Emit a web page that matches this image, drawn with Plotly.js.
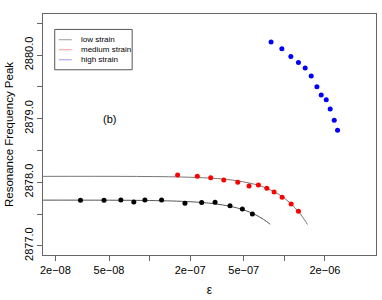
<!DOCTYPE html>
<html>
<head>
<meta charset="utf-8">
<script src="https://cdn.plot.ly/plotly-3.0.1.min.js"></script>
<style>html,body{margin:0;padding:0;background:#fff;}#chart{width:382px;height:300px;}</style>
</head>
<body>
<div id="chart"></div>
<script>
// Observed points (strain epsilon, resonance frequency peak)
const lowX = [3.07e-8, 4.59e-8, 6.12e-8, 7.64e-8, 9.23e-8, 1.227e-7, 1.83e-7, 2.435e-7, 3.06e-7, 3.95e-7, 4.88e-7, 5.79e-7];
const lowY = [2877.717, 2877.717, 2877.721, 2877.690, 2877.721, 2877.721, 2877.669, 2877.679, 2877.685, 2877.631, 2877.580, 2877.501];

const medX = [1.614e-7, 2.26e-7, 2.84e-7, 3.55e-7, 4.51e-7, 5.47e-7, 6.42e-7, 7.41e-7, 8.39e-7, 9.63e-7, 1.123e-6, 1.272e-6];
const medY = [2878.115, 2878.094, 2878.072, 2878.036, 2878.000, 2877.942, 2877.957, 2877.906, 2877.847, 2877.764, 2877.658, 2877.543];

const highX = [7.97e-7, 9.58e-7, 1.117e-6, 1.272e-6, 1.427e-6, 1.582e-6, 1.744e-6, 1.877e-6, 2.045e-6, 2.189e-6, 2.345e-6, 2.481e-6];
const highY = [2880.205, 2880.099, 2879.978, 2879.883, 2879.795, 2879.669, 2879.501, 2879.370, 2879.296, 2879.150, 2878.976, 2878.819];

// Fitted curves
const lowFitX = [1.62e-8, 1e-7, 2e-7, 3e-7, 4e-7, 5e-7, 6e-7, 6.5e-7, 7e-7, 7.4e-7, 7.84e-7];
const lowFitY = [2877.718, 2877.712, 2877.693, 2877.662, 2877.619, 2877.564, 2877.496, 2877.457, 2877.415, 2877.380, 2877.338];

const medFitX = [1.62e-8, 2e-7, 4e-7, 6e-7, 7e-7, 8e-7, 9e-7, 1e-6, 1.1e-6, 1.2e-6, 1.3e-6, 1.4e-6, 1.485e-6];
const medFitY = [2878.092, 2878.078, 2878.037, 2877.968, 2877.924, 2877.872, 2877.814, 2877.749, 2877.677, 2877.598, 2877.513, 2877.420, 2877.335];

// Axis ticks
const xTickVals = [2e-8, 5e-8, 1e-7, 2e-7, 5e-7, 1e-6, 2e-6];
const xTickText = ['2e\u221208', '5e\u221208', '', '2e\u221207', '5e\u221207', '', '2e\u221206'];
const yTickVals = [2877, 2877.5, 2878, 2878.5, 2879, 2879.5, 2880, 2880.5];
const yTickText = ['2877.0', '', '2878.0', '', '2879.0', '', '2880.0', ''];

// Legend
const legendLabels = ['low strain', 'medium strain', 'high strain'];
const legendColors = ['#999999', '#ff9999', '#9999ff'];

const FONT = 'Liberation Sans, Arial, Helvetica, sans-serif';

const traces = [
  {x: lowFitX, y: lowFitY, mode: 'lines', line: {color: '#555555', width: 1, shape: 'spline'}, hoverinfo: 'skip'},
  {x: medFitX, y: medFitY, mode: 'lines', line: {color: '#777777', width: 1, shape: 'spline'}, hoverinfo: 'skip'},
  {x: lowX, y: lowY, mode: 'markers', marker: {color: '#000000', size: 5}},
  {x: medX, y: medY, mode: 'markers', marker: {color: '#ff0000', size: 5}},
  {x: highX, y: highY, mode: 'markers', marker: {color: '#0000ff', size: 5}}
];

// legend box geometry in paper units
const lgX0 = 0.0352, lgX1 = 0.2677, lgY0 = 0.7686, lgY1 = 0.936;
const rowY = [0.8932, 0.8517, 0.8101];
const shapes = [
  {type: 'rect', xref: 'paper', yref: 'paper', x0: lgX0, x1: lgX1, y0: lgY0, y1: lgY1, line: {color: '#555555', width: 1}, fillcolor: 'rgba(0,0,0,0)'}
];
const annotations = [
  {xref: 'x', yref: 'y', x: Math.log10(5e-8), y: 2879.0, text: '(b)', showarrow: false, font: {family: FONT, size: 11, color: '#000'}}
];
legendLabels.forEach((lab, i) => {
  shapes.push({type: 'line', xref: 'paper', yref: 'paper', x0: 0.0472, x1: 0.0863, y0: rowY[i], y1: rowY[i], line: {color: legendColors[i], width: 1}});
  annotations.push({xref: 'paper', yref: 'paper', x: 0.1074, y: rowY[i], xanchor: 'left', yanchor: 'middle', text: lab, showarrow: false, font: {family: FONT, size: 8, color: '#000'}});
});

const layout = {
  width: 382, height: 300,
  margin: {l: 43.3, r: 6.3, t: 14.3, b: 45, pad: 0},
  paper_bgcolor: '#ffffff', plot_bgcolor: '#ffffff',
  showlegend: false,
  font: {family: FONT, size: 11, color: '#000'},
  xaxis: {
    type: 'log', range: [-7.791, -5.320], autorange: false,
    tickmode: 'array', tickvals: xTickVals, ticktext: xTickText,
    ticks: 'outside', ticklen: 5, tickcolor: '#666', tickwidth: 1,
    showgrid: false, zeroline: false,
    showline: true, linecolor: '#666', linewidth: 1, mirror: true,
    tickfont: {family: FONT, size: 11, color: '#000'},
    title: {text: '\u03b5', font: {family: FONT, size: 12, color: '#000'}, standoff: 10},
    automargin: false
  },
  yaxis: {
    range: [2876.855, 2880.646], autorange: false,
    tickmode: 'array', tickvals: yTickVals, ticktext: yTickText,
    ticks: 'outside', ticklen: 5, tickcolor: '#666', tickwidth: 1,
    tickangle: -90,
    showgrid: false, zeroline: false,
    showline: true, linecolor: '#666', linewidth: 1, mirror: true,
    tickfont: {family: FONT, size: 11, color: '#000'},
    title: {text: 'Resonance Frequency Peak', font: {family: FONT, size: 11.5, color: '#000'}, standoff: 6},
    automargin: false
  },
  shapes: shapes,
  annotations: annotations
};

Plotly.newPlot('chart', traces, layout, {displayModeBar: false, staticPlot: true});
</script>
</body>
</html>
